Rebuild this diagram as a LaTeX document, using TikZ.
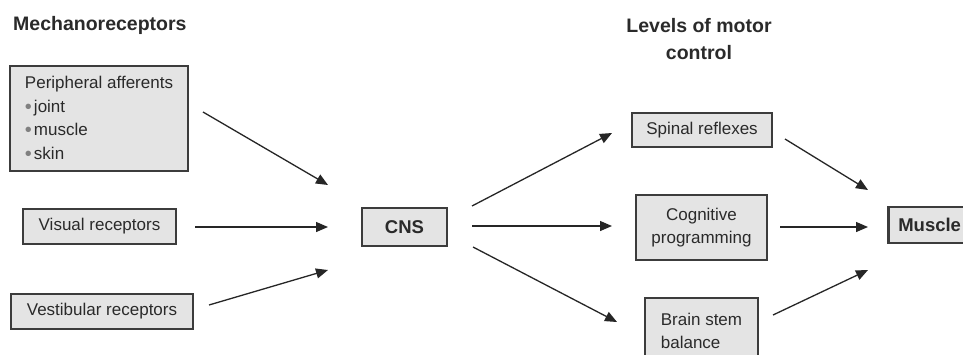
\documentclass[tikz,border=0pt]{standalone}
\usepackage{fontspec}
\setmainfont{Liberation Sans}
\usetikzlibrary{arrows.meta}
\definecolor{boxfill}{HTML}{E4E4E4}
\definecolor{boxline}{HTML}{3C3C3C}
\definecolor{txt}{HTML}{2A2A2A}
\definecolor{arr}{HTML}{262626}
\tikzset{
  x=1pt, y=-1pt,
  plainbox/.style={draw=boxline, fill=boxfill, line width=1.3pt, rectangle, text=txt,
    font=\fontsize{17}{23.5}\selectfont, align=center, inner sep=0pt},
  thickbox/.style={plainbox, line width=2.6pt, font=\fontsize{18.5}{23}\selectfont\bfseries},
  title/.style={text=txt, font=\fontsize{19.5}{27}\selectfont\bfseries, inner sep=0pt},
  conn/.style={draw=arr, line width=1.3pt, -{Triangle[length=12pt,width=10pt]}}
}
\newcommand{\bulitem}{{\color{gray}\fontsize{20}{20}\selectfont\raisebox{-1pt}{\textbullet}}\hspace{2pt}}
\begin{document}
\begin{tikzpicture}
\useasboundingbox (0,0) rectangle (963,354);
\fill[white] (0,0) rectangle (963,354);

% titles
\node[title, anchor=base west] (t1) at (13,30) {Mechanoreceptors};
\node[title, anchor=north, align=center] (t2) at (699,18) {Levels of motor\\control};

% left boxes
\node[plainbox, minimum width=178pt, minimum height=105pt, align=left] (per) at (99,118.5)
  {Peripheral afferents\\\bulitem joint\\\bulitem muscle\\\bulitem skin};
\node[plainbox, minimum width=153pt, minimum height=35pt] (vis) at (99.5,226.5) {Visual receptors};
\node[plainbox, minimum width=182pt, minimum height=35pt] (ves) at (102,311.5) {Vestibular receptors};

% CNS
\node[thickbox, minimum width=85pt, minimum height=38pt] (cns) at (404.5,227) {CNS};

% right boxes
\node[plainbox, minimum width=140pt, minimum height=34pt] (spi) at (702,130) {Spinal reflexes};
\node[plainbox, minimum width=131pt, minimum height=65pt] (cog) at (701.5,227.5) {Cognitive\\programming};
\node[plainbox, minimum width=113pt, minimum height=66pt, align=left] (bra) at (701.5,331) {Brain stem\\balance};

% Muscle
\node[thickbox, anchor=west, text width=100pt, align=left, inner xsep=10pt, minimum height=36pt] (mus) at (887,225) {Muscle};

% arrow coordinates
\coordinate (a1s) at (203,112); \coordinate (a1e) at (328,185);
\coordinate (a2s) at (195,227); \coordinate (a2e) at (328,227);
\coordinate (a3s) at (209,305); \coordinate (a3e) at (328,270);
\coordinate (b1s) at (472,206); \coordinate (b1e) at (612,133);
\coordinate (b2s) at (472,226); \coordinate (b2e) at (612,226);
\coordinate (b3s) at (473,247); \coordinate (b3e) at (617,322);
\coordinate (c1s) at (785,139); \coordinate (c1e) at (868,190);
\coordinate (c2s) at (780,227); \coordinate (c2e) at (868,227);
\coordinate (c3s) at (773,315); \coordinate (c3e) at (868,270);

\draw[conn] (a1s) -- (a1e);
\draw[conn] (a2s) -- (a2e);
\draw[conn] (a3s) -- (a3e);
\draw[conn] (b1s) -- (b1e);
\draw[conn] (b2s) -- (b2e);
\draw[conn] (b3s) -- (b3e);
\draw[conn] (c1s) -- (c1e);
\draw[conn] (c2s) -- (c2e);
\draw[conn] (c3s) -- (c3e);
\end{tikzpicture}
\end{document}
